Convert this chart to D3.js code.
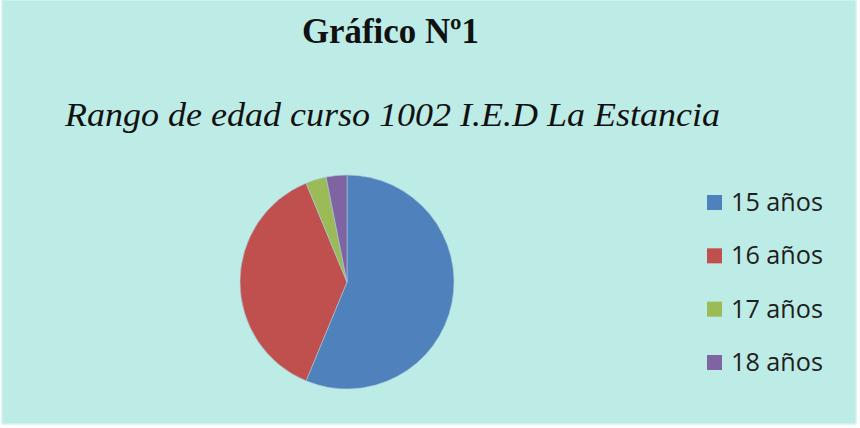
<!DOCTYPE html>
<html>
<head>
<meta charset="utf-8">
<script src="https://cdn.jsdelivr.net/npm/d3@7"></script>
<style>
  html, body { margin: 0; padding: 0; background: #fff; }
  svg { display: block; }
</style>
</head>
<body>
<div id="chart"></div>
<script>
const W = 860;
const H = 428;

// datos (número de estudiantes por edad)
const categories = ['15 años', '16 años', '17 años', '18 años'];
const values = [18, 12, 1, 1];
const colors = ['#4f81bd', '#c0504d', '#9bbb59', '#8064a2'];
const title = 'Gráfico Nº1';
const subtitle = 'Rango de edad curso 1002 I.E.D La Estancia';

const svg = d3.select('#chart')
  .append('svg')
  .attr('width', W)
  .attr('height', H);

// fondo del área del gráfico
svg.append('rect')
  .attr('x', 2).attr('y', 0)
  .attr('width', 854).attr('height', 424)
  .attr('fill', '#bdebe5')
  .attr('stroke', '#d2f4ef')
  .attr('stroke-width', 1.5);

svg.append('text')
  .attr('x', 302).attr('y', 43)
  .style('font-family', '"Liberation Serif", "Times New Roman", serif')
  .style('font-weight', 'bold')
  .style('font-size', '36px')
  .attr('textLength', 177)
  .attr('lengthAdjust', 'spacingAndGlyphs')
  .attr('fill', '#111')
  .text(title);

svg.append('text')
  .attr('x', 65).attr('y', 126)
  .style('font-family', '"Liberation Serif", "Times New Roman", serif')
  .style('font-style', 'italic')
  .style('font-size', '33px')
  .attr('textLength', 655)
  .attr('lengthAdjust', 'spacingAndGlyphs')
  .attr('fill', '#111')
  .text(subtitle);

const color = d3.scaleOrdinal().domain(categories).range(colors);

const pie = d3.pie().sort(null).value(d => d.value);
const arc = d3.arc().innerRadius(0).outerRadius(107);
const data = categories.map((c, i) => ({ cat: c, value: values[i] }));

const g = svg.append('g').attr('transform', 'translate(347,282)');
g.selectAll('path')
  .data(pie(data))
  .join('path')
  .attr('d', arc)
  .attr('fill', d => color(d.data.cat))
  .attr('stroke', '#a9c9dd')
  .attr('stroke-width', 0.6);

// leyenda
const legendY = d3.scalePoint().domain(categories).range([202, 362]);
const legend = svg.append('g');
const items = legend.selectAll('g')
  .data(categories)
  .join('g')
  .attr('transform', d => `translate(707,${legendY(d)})`);
items.append('rect')
  .attr('x', 0).attr('y', -7)
  .attr('width', 15).attr('height', 15)
  .attr('fill', d => color(d));
items.append('text')
  .attr('x', 24).attr('y', 0)
  .attr('dy', '0.36em')
  .style('font-family', '"Open Sans", Lato, sans-serif')
  .style('font-size', '25px')
  .attr('textLength', 92)
  .attr('lengthAdjust', 'spacingAndGlyphs')
  .attr('fill', '#1e1e1e')
  .text(d => d);
</script>
</body>
</html>
